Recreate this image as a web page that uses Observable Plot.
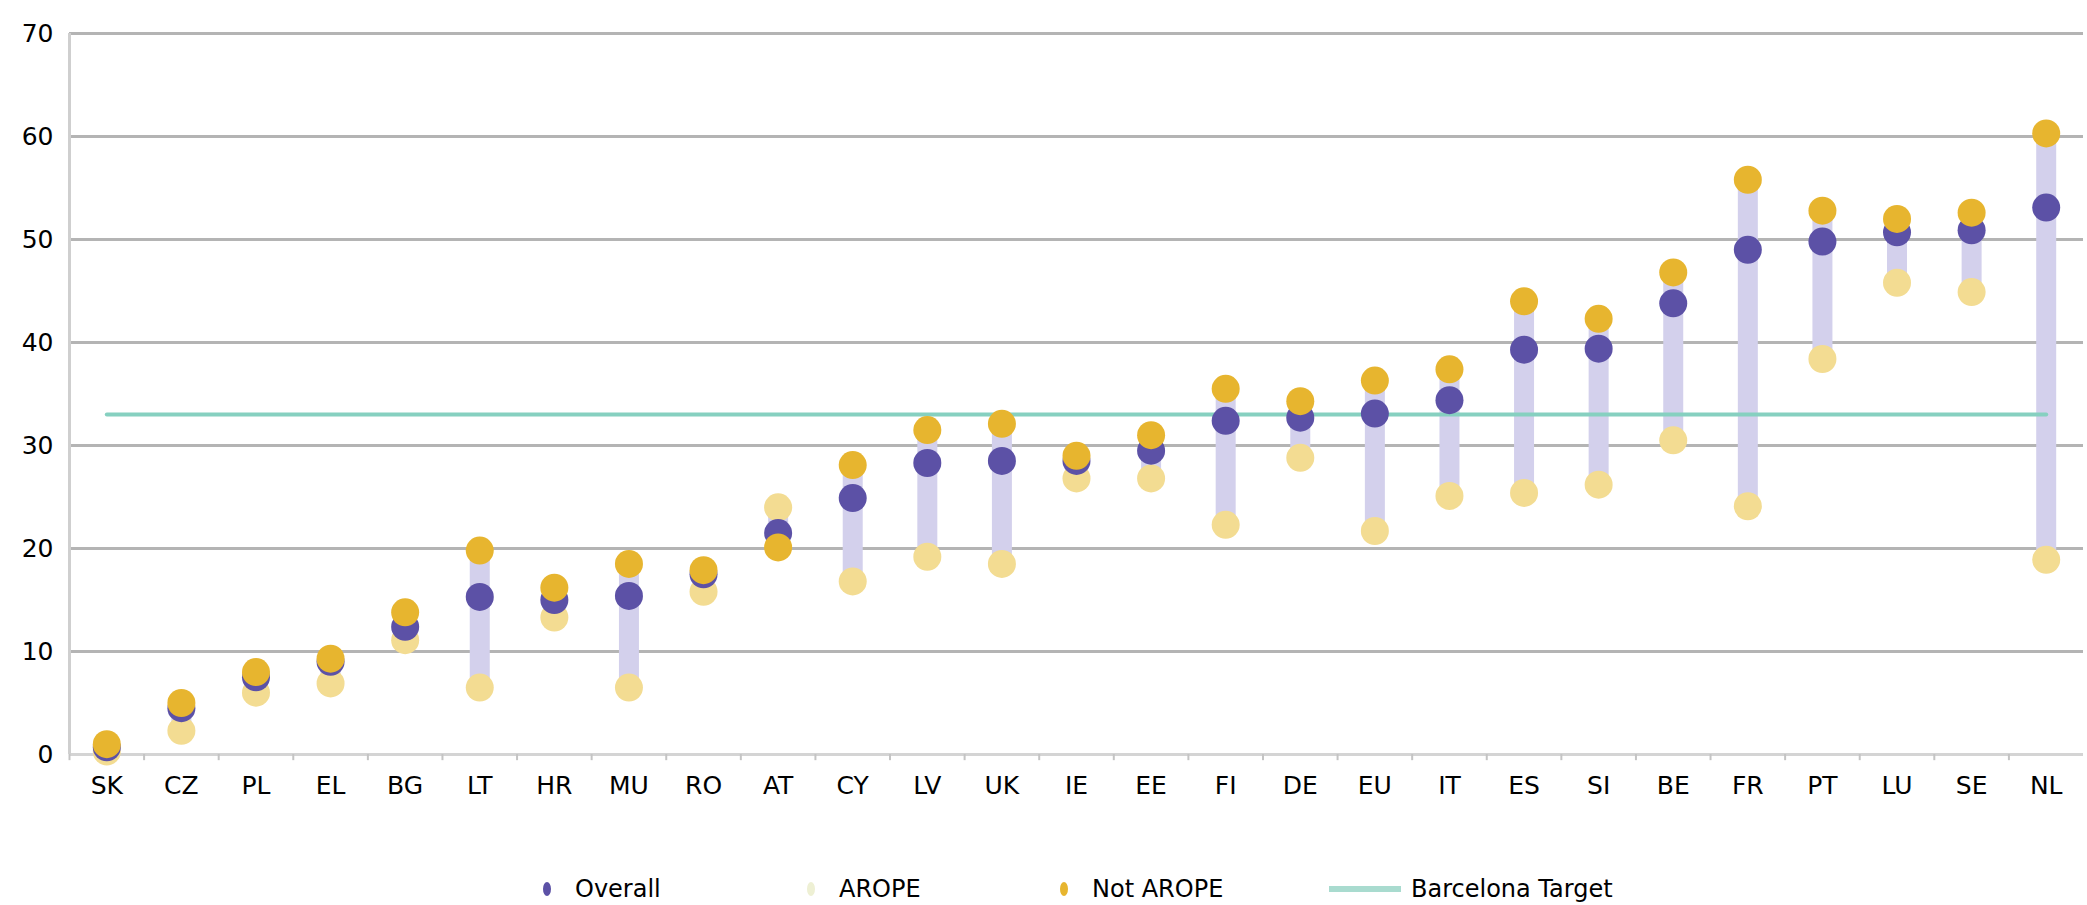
<!DOCTYPE html>
<html>
<head>
<meta charset="utf-8">
<script src="https://cdn.jsdelivr.net/npm/d3@7"></script>
<script src="https://cdn.jsdelivr.net/npm/@observablehq/plot@0.6"></script>
<style>
  html, body { margin: 0; padding: 0; background: #fff; }
  body { font-family: "DejaVu Sans", sans-serif; width: 2087px; }
  #legend { position: relative; height: 75px; width: 2087px; font-size: 24px; color: #000; }
  .item { position: absolute; top: 44px; height: 30px; display: flex; align-items: center; }
  .mark { display: inline-block; width: 8px; height: 14px; border-radius: 50%; margin-right: 24px; }
  .lmark { display: inline-block; width: 72px; height: 6px; margin-right: 10px; }
</style>
</head>
<body>
<div id="chart"></div>
<div id="legend"></div>
<script>
// ---- data ----
const categories = ["SK","CZ","PL","EL","BG","LT","HR","MU","RO","AT","CY","LV","UK","IE","EE","FI","DE","EU","IT","ES","SI","BE","FR","PT","LU","SE","NL"];
const overall  = [0.7, 4.5, 7.5, 9.0, 12.4, 15.3, 15.0, 15.4, 17.5, 21.5, 24.9, 28.3, 28.5, 28.5, 29.5, 32.4, 32.7, 33.1, 34.4, 39.3, 39.4, 43.8, 49.0, 49.8, 50.7, 50.9, 53.1];
const arope    = [0.3, 2.3, 6.0, 6.9, 11.1, 6.5, 13.3, 6.5, 15.8, 24.0, 16.8, 19.2, 18.5, 26.8, 26.8, 22.3, 28.8, 21.7, 25.1, 25.4, 26.2, 30.5, 24.1, 38.4, 45.8, 44.9, 18.9];
const notArope = [1.0, 5.0, 8.0, 9.3, 13.8, 19.8, 16.2, 18.5, 17.9, 20.1, 28.1, 31.5, 32.1, 29.0, 31.0, 35.5, 34.3, 36.3, 37.4, 44.0, 42.3, 46.8, 55.8, 52.8, 52.0, 52.6, 60.3];
const barcelonaTarget = 33;
const yTicks = [0, 10, 20, 30, 40, 50, 60, 70];
const seriesNames = ["Overall", "AROPE", "Not AROPE", "Barcelona Target"];

// ---- colours ----
const cOverall = "#5c51a6";
const cArope = "#f3dc92";
const cNot = "#e7b52f";
const cBar = "#d3d0ec";
const cTarget = "#86d0c0";

const rows = categories.map((c, i) => ({country: c, overall: overall[i], arope: arope[i], notArope: notArope[i]}));

const W = 2087, H = 830, mL = 69, mR = 4;
const bw = (W - mL - mR) / categories.length;

const chart = Plot.plot({
  width: W,
  height: H,
  marginTop: 33,
  marginBottom: 76,
  marginLeft: mL,
  marginRight: mR,
  x: {type: "point", domain: categories, padding: 0.5, round: false, axis: null, label: null},
  y: {domain: [0, 70], axis: null, label: null},
  style: {fontFamily: "DejaVu Sans, sans-serif", fontSize: "24px", color: "#000", background: "#fff"},
  marks: [
    Plot.ruleY(yTicks.filter(t => t > 0), {stroke: "#b4b4b4", strokeWidth: 3}),
    Plot.ruleY([0], {stroke: "#d4d4d4", strokeWidth: 3}),
    Plot.ruleX([categories[0]], {x: d => d, y1: 0, y2: 70, dx: -bw / 2, stroke: "#cfcfcf", strokeWidth: 3}),
    Plot.ruleX(categories, {x: d => d, y1: 0, y2: -0.6, dx: -bw / 2, stroke: "#c4c4c4", strokeWidth: 2}),
    Plot.axisY({ticks: yTicks, tickSize: 0, tickPadding: 16, fontSize: 25, anchor: "left", label: null}),
    Plot.axisX({tickSize: 0, tickPadding: 22, fontSize: 25, anchor: "bottom", label: null}),
    Plot.ruleX(rows, {x: "country", y1: "arope", y2: "notArope", stroke: cBar, strokeWidth: 20}),
    Plot.line(rows, {x: "country", y: () => barcelonaTarget, stroke: cTarget, strokeWidth: 4}),
    Plot.dot(rows, {x: "country", y: "arope", r: 14, fill: cArope, stroke: "none"}),
    Plot.dot(rows, {x: "country", y: "overall", r: 14, fill: cOverall, stroke: "none"}),
    Plot.dot(rows, {x: "country", y: "notArope", r: 14, fill: cNot, stroke: "none"})
  ]
});
document.getElementById("chart").appendChild(chart);

// ---- legend ----
const legend = document.getElementById("legend");
const legendItems = [
  {name: seriesNames[0], color: cOverall, left: 543, type: "dot"},
  {name: seriesNames[1], color: "#eef0d4", left: 807, type: "dot"},
  {name: seriesNames[2], color: cNot, left: 1060, type: "dot"},
  {name: seriesNames[3], color: "#a9dbcf", left: 1329, type: "line"}
];
legendItems.forEach(it => {
  const d = document.createElement("div");
  d.className = "item";
  d.style.left = it.left + "px";
  const m = document.createElement("span");
  m.className = it.type === "dot" ? "mark" : "lmark";
  m.style.background = it.color;
  d.appendChild(m);
  const t = document.createElement("span");
  t.textContent = it.name;
  d.appendChild(t);
  legend.appendChild(d);
});
</script>
</body>
</html>
